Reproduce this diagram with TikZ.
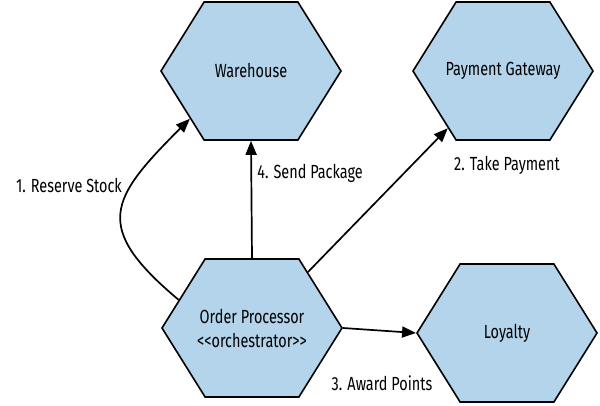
\documentclass[tikz,border=0pt]{standalone}
\usepackage{fontspec}
\setmainfont{Fira Sans}[FakeStretch=0.76]
\usetikzlibrary{shapes.symbols, arrows.meta}
\definecolor{hexfill}{HTML}{B3D4EA}

\begin{document}
\begin{tikzpicture}[x=1pt, y=1pt,
    hexa/.style={signal, signal to=east and west, signal pointer angle=116, draw, fill=hexfill, line width=1.6pt, inner sep=0pt, minimum width=180pt, minimum height=138pt},
    hextxt/.style={align=center, font=\fontsize{19}{24}\selectfont},
    arr/.style={-{Triangle[length=14pt, width=11pt]}, line width=1.7pt},
    lbl/.style={font=\fontsize{19}{24}\selectfont},
  ]
    \useasboundingbox (0,0) rectangle (600,405);

    \node[hexa, label={[hextxt]center:Warehouse}] (wh) at (251,334) {};
    \node[hexa, label={[hextxt]center:Payment Gateway}] (pg) at (503,334) {};
    \node[hexa, label={[hextxt]center:Order Processor\\{<}{<}orchestrator{>}{>}}] (op) at (252,77) {};
    \node[hexa, label={[hextxt]center:Loyalty}] (loy) at (507,72) {};

    \node[lbl] (l1) at (69,220) {1. Reserve Stock};
    \node[lbl] (l4) at (310,232) {4. Send Package};
    \node[lbl] (l2) at (507,240) {2. Take Payment};
    \node[lbl] (l3) at (382,22) {3. Award Points};

    \draw[arr] (op.159) to[out=140, in=-135, looseness=1.6] (wh.-142);
    \draw[arr] (op.north) -- (wh.south);
    \draw[arr] (op.45) -- (pg.-134);
    \draw[arr] (op.east) -- (loy.west);
  \end{tikzpicture}
\end{document}
